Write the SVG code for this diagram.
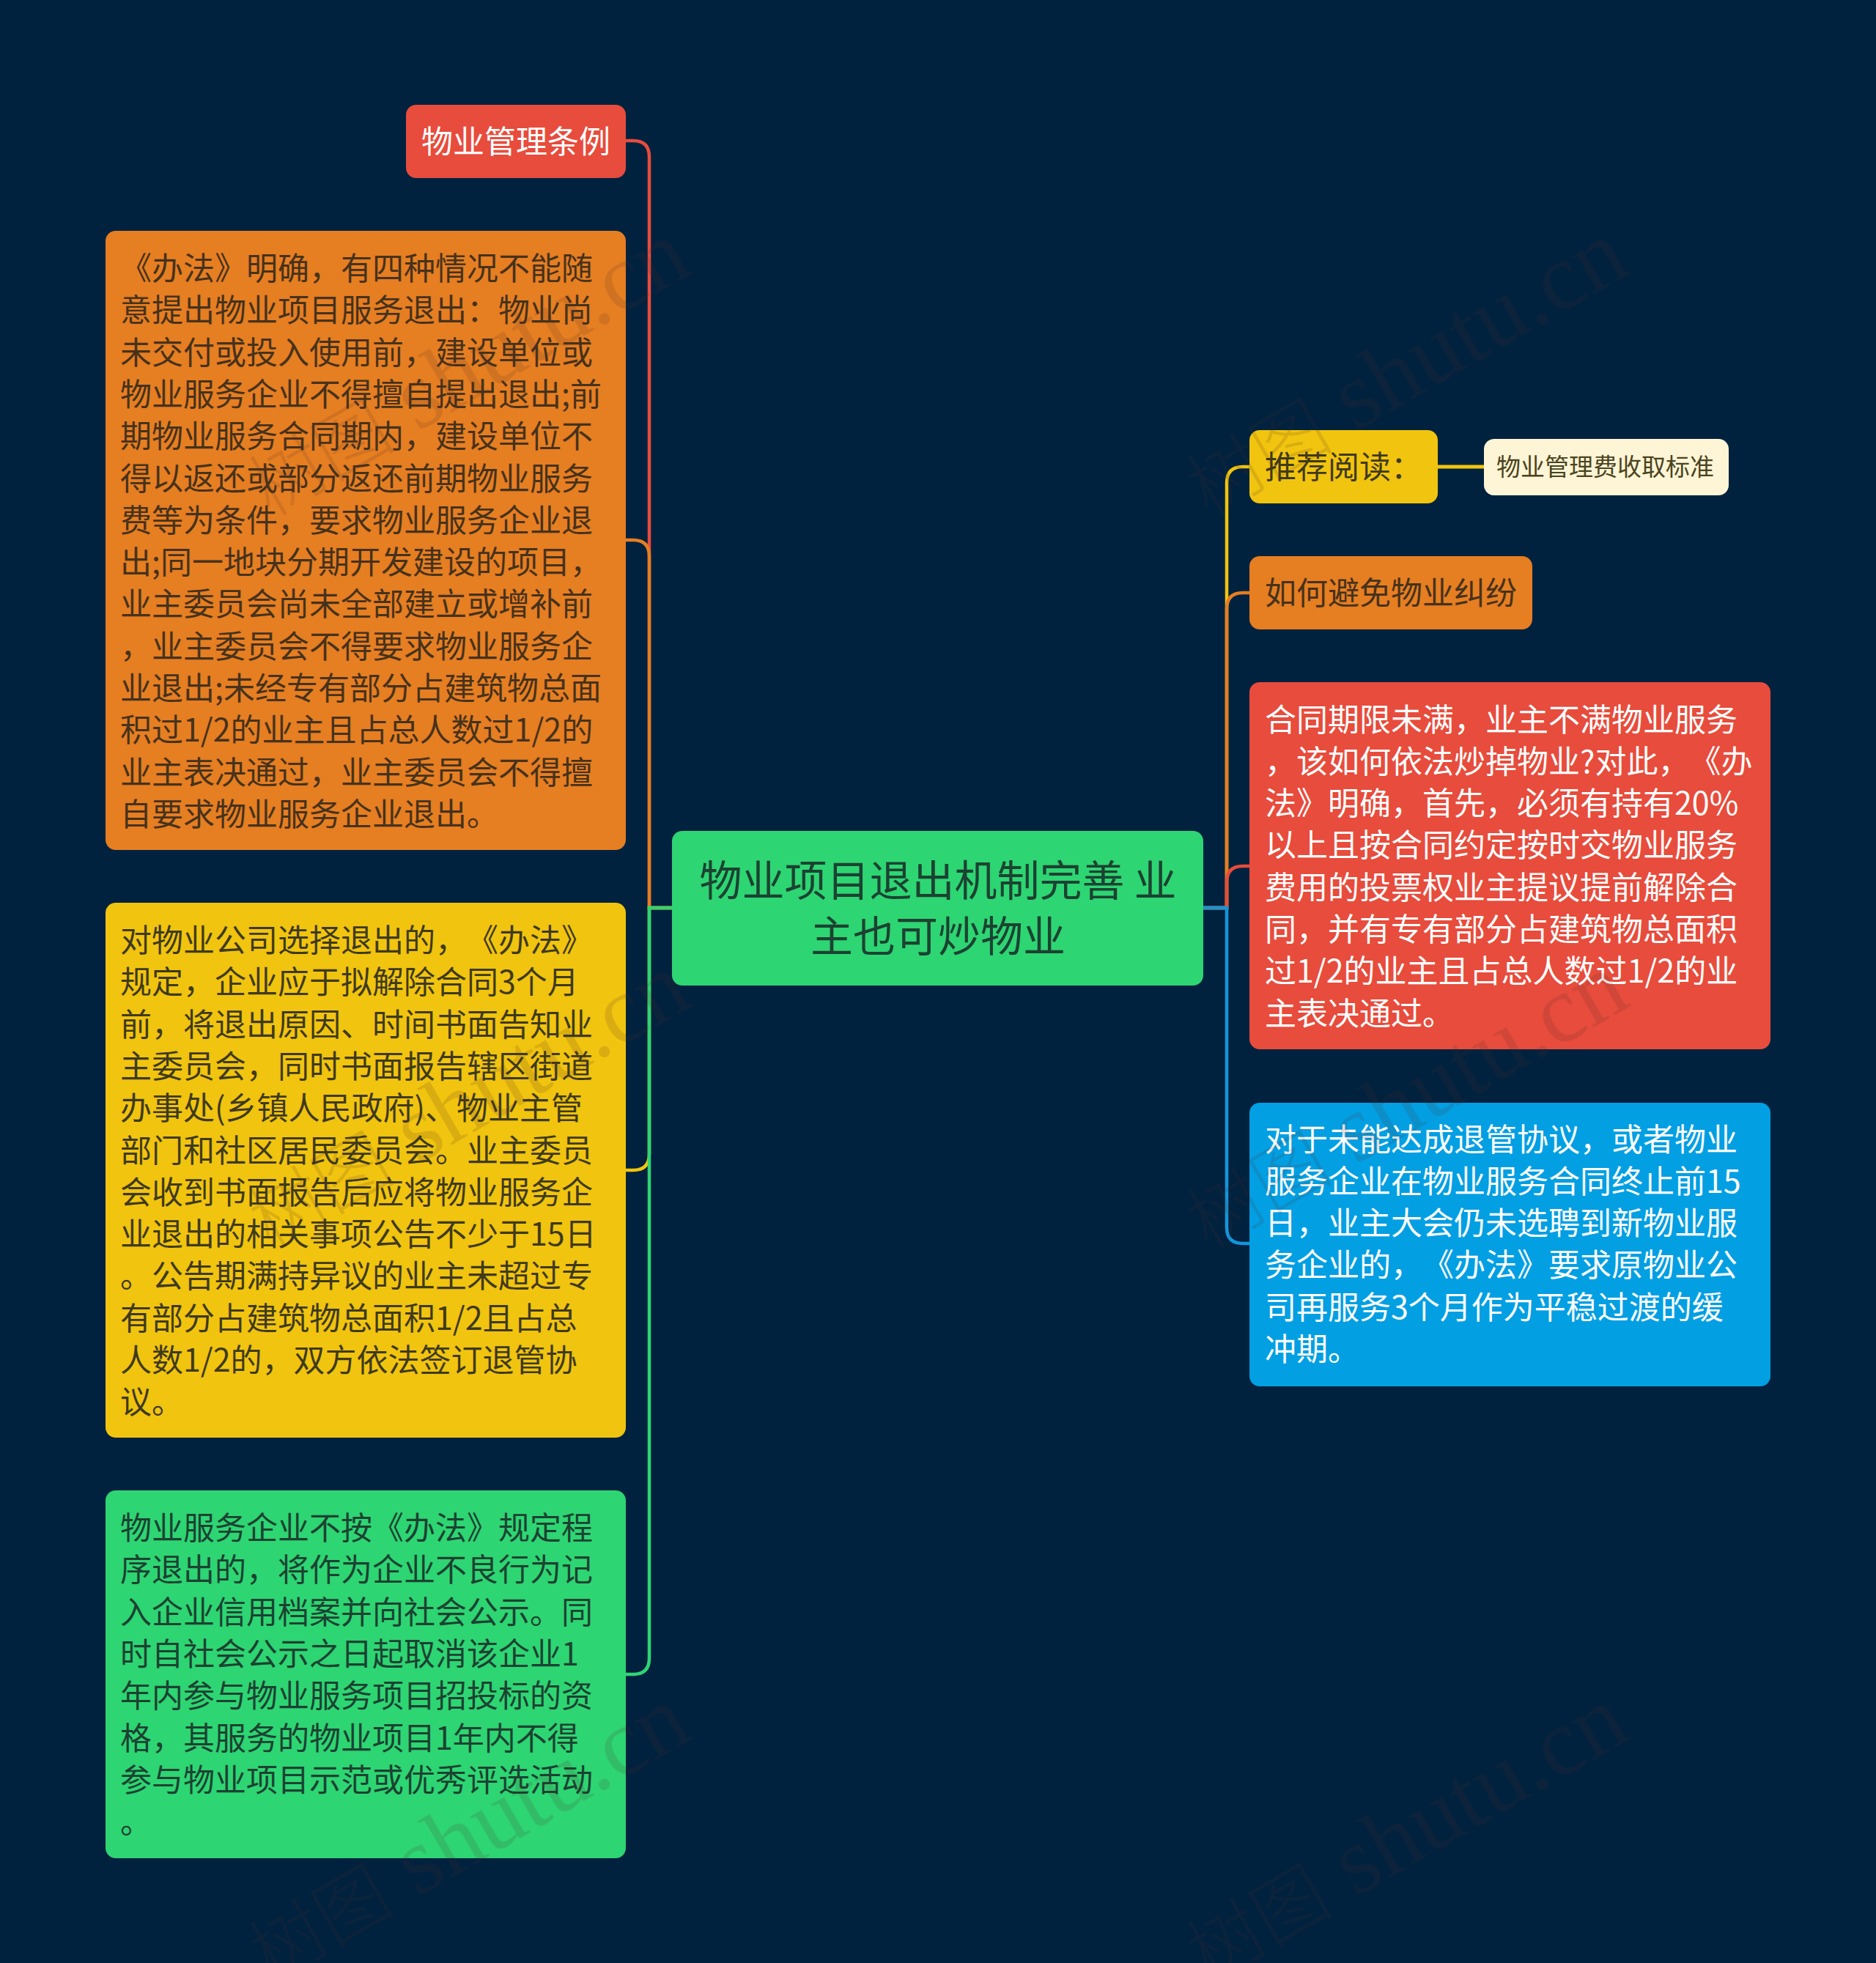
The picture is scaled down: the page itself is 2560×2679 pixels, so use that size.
<svg xmlns="http://www.w3.org/2000/svg" width="2560" height="2679" viewBox="0 0 2560 2679">
<style>
text{font-family:"Noto Sans CJK SC","Noto Sans",sans-serif;font-size:43px;text-spacing-trim:space-all;font-feature-settings:"chws" 0}
.dark-o{fill:#46321c}.dark-y{fill:#3f3a1c}.dark-g{fill:#1c4231}.white{fill:#fff}
.c{fill:none;stroke-width:4.5;stroke-linecap:butt}
.wm{font-family:"Liberation Serif","Noto Sans CJK SC",serif;font-size:130px;fill:#503228;fill-opacity:.15;text-anchor:end}
.wm .z{font-family:"Noto Sans CJK SC",serif;font-size:100px;font-weight:300}
</style>
<rect width="2560" height="2679" fill="#00223f"/>
<g id="connectors">
<path class="c" stroke="#e74c3c" d="M917 1239H886V214Q886 192 864 192H854"/>
<path class="c" stroke="#e67e22" d="M917 1239H886V759Q886 737 864 737H854"/>
<path class="c" stroke="#f1c40f" d="M917 1239H886V1575Q886 1597 864 1597H854"/>
<path class="c" stroke="#2ed573" d="M917 1239H886V2263Q886 2285 864 2285H854"/>
<path class="c" stroke="#f1c40f" d="M1642 1239H1674V659Q1674 637 1696 637H1705"/>
<path class="c" stroke="#e67e22" d="M1642 1239H1674V831Q1674 809 1696 809H1705"/>
<path class="c" stroke="#e74c3c" d="M1642 1239H1674V1204Q1674 1182 1696 1182H1705"/>
<path class="c" stroke="#1296db" d="M1642 1239H1674V1675Q1674 1697 1696 1697H1705"/>
<path class="c" stroke="#f1c40f" style="stroke-width:5" d="M1962 637H2025"/>
</g>
<g id="center">
<rect x="917" y="1134" width="725" height="211" rx="14" fill="#2ed573"/>
<text class="dark-g" style="font-size:58px" text-anchor="middle" x="1280" y="1223">物业项目退出机制完善 业</text>
<text class="dark-g" style="font-size:58px" text-anchor="middle" x="1280" y="1299">主也可炒物业</text>
</g>
<g id="node-regulation">
<rect x="554" y="143" width="300" height="100" rx="14" fill="#e74c3c"/>
<text class="white" x="575" y="209">物业管理条例</text>
</g>
<g id="node-left-orange">
<rect x="144" y="315" width="710" height="845" rx="14" fill="#e67e22"/>
<text class="dark-o" x="164" y="382">《办法》明确，有四种情况不能随</text>
<text class="dark-o" x="164" y="439.3">意提出物业项目服务退出：物业尚</text>
<text class="dark-o" x="164" y="496.6">未交付或投入使用前，建设单位或</text>
<text class="dark-o" x="164" y="553.9">物业服务企业不得擅自提出退出;前</text>
<text class="dark-o" x="164" y="611.2">期物业服务合同期内，建设单位不</text>
<text class="dark-o" x="164" y="668.5">得以返还或部分返还前期物业服务</text>
<text class="dark-o" x="164" y="725.8">费等为条件，要求物业服务企业退</text>
<text class="dark-o" x="164" y="783.1">出;同一地块分期开发建设的项目，</text>
<text class="dark-o" x="164" y="840.4">业主委员会尚未全部建立或增补前</text>
<text class="dark-o" x="164" y="897.7">，业主委员会不得要求物业服务企</text>
<text class="dark-o" x="164" y="955">业退出;未经专有部分占建筑物总面</text>
<text class="dark-o" x="164" y="1012.3">积过1/2的业主且占总人数过1/2的</text>
<text class="dark-o" x="164" y="1069.6">业主表决通过，业主委员会不得擅</text>
<text class="dark-o" x="164" y="1126.9">自要求物业服务企业退出。</text>
</g>
<g id="node-left-yellow">
<rect x="144" y="1232" width="710" height="730" rx="14" fill="#f1c40f"/>
<text class="dark-y" x="164" y="1299">对物业公司选择退出的，《办法》</text>
<text class="dark-y" x="164" y="1356.3">规定，企业应于拟解除合同3个月</text>
<text class="dark-y" x="164" y="1413.6">前，将退出原因、时间书面告知业</text>
<text class="dark-y" x="164" y="1470.9">主委员会，同时书面报告辖区街道</text>
<text class="dark-y" x="164" y="1528.2">办事处(乡镇人民政府)、物业主管</text>
<text class="dark-y" x="164" y="1585.5">部门和社区居民委员会。业主委员</text>
<text class="dark-y" x="164" y="1642.8">会收到书面报告后应将物业服务企</text>
<text class="dark-y" x="164" y="1700.1">业退出的相关事项公告不少于15日</text>
<text class="dark-y" x="164" y="1757.4">。公告期满持异议的业主未超过专</text>
<text class="dark-y" x="164" y="1814.7">有部分占建筑物总面积1/2且占总</text>
<text class="dark-y" x="164" y="1872">人数1/2的，双方依法签订退管协</text>
<text class="dark-y" x="164" y="1929.3">议。</text>
</g>
<g id="node-left-green">
<rect x="144" y="2034" width="710" height="502" rx="14" fill="#2ed573"/>
<text class="dark-g" x="164" y="2101">物业服务企业不按《办法》规定程</text>
<text class="dark-g" x="164" y="2158.3">序退出的，将作为企业不良行为记</text>
<text class="dark-g" x="164" y="2215.6">入企业信用档案并向社会公示。同</text>
<text class="dark-g" x="164" y="2272.9">时自社会公示之日起取消该企业1</text>
<text class="dark-g" x="164" y="2330.2">年内参与物业服务项目招投标的资</text>
<text class="dark-g" x="164" y="2387.5">格，其服务的物业项目1年内不得</text>
<text class="dark-g" x="164" y="2444.8">参与物业项目示范或优秀评选活动</text>
<text class="dark-g" x="164" y="2502.1">。</text>
</g>
<g id="node-recommend">
<rect x="1705" y="587" width="257" height="100" rx="14" fill="#f1c40f"/>
<text class="dark-y" x="1726" y="653">推荐阅读：</text>
</g>
<g id="node-fee">
<rect x="2025" y="599" width="334" height="77" rx="14" fill="#fdf5d5"/>
<text style="font-size:33px;fill:#4a4320" x="2042" y="649">物业管理费收取标准</text>
</g>
<g id="node-avoid">
<rect x="1705" y="759" width="386" height="100" rx="14" fill="#e67e22"/>
<text class="dark-o" x="1726" y="825">如何避免物业纠纷</text>
</g>
<g id="node-right-red">
<rect x="1705" y="931" width="711" height="501" rx="14" fill="#e74c3c"/>
<text class="white" x="1726" y="997.5">合同期限未满，业主不满物业服务</text>
<text class="white" x="1726" y="1054.8">，该如何依法炒掉物业?对此，《办</text>
<text class="white" x="1726" y="1112.1">法》明确，首先，必须有持有20%</text>
<text class="white" x="1726" y="1169.4">以上且按合同约定按时交物业服务</text>
<text class="white" x="1726" y="1226.7">费用的投票权业主提议提前解除合</text>
<text class="white" x="1726" y="1284">同，并有专有部分占建筑物总面积</text>
<text class="white" x="1726" y="1341.3">过1/2的业主且占总人数过1/2的业</text>
<text class="white" x="1726" y="1398.6">主表决通过。</text>
</g>
<g id="node-right-blue">
<rect x="1705" y="1505" width="711" height="387" rx="14" fill="#039fe3"/>
<text class="white" x="1726" y="1570.5">对于未能达成退管协议，或者物业</text>
<text class="white" x="1726" y="1627.8">服务企业在物业服务合同终止前15</text>
<text class="white" x="1726" y="1685.1">日，业主大会仍未选聘到新物业服</text>
<text class="white" x="1726" y="1742.4">务企业的，《办法》要求原物业公</text>
<text class="white" x="1726" y="1799.7">司再服务3个月作为平稳过渡的缓</text>
<text class="white" x="1726" y="1857">冲期。</text>
</g>
<g id="watermarks">
<text class="wm" transform="translate(948 371) rotate(-30)"><tspan class="z">树图</tspan> shutu.cn</text>
<text class="wm" transform="translate(2228 371) rotate(-30)"><tspan class="z">树图</tspan> shutu.cn</text>
<text class="wm" transform="translate(948 1371) rotate(-30)"><tspan class="z">树图</tspan> shutu.cn</text>
<text class="wm" transform="translate(2228 1371) rotate(-30)"><tspan class="z">树图</tspan> shutu.cn</text>
<text class="wm" transform="translate(948 2371) rotate(-30)"><tspan class="z">树图</tspan> shutu.cn</text>
<text class="wm" transform="translate(2228 2371) rotate(-30)"><tspan class="z">树图</tspan> shutu.cn</text>
</g>
</svg>
